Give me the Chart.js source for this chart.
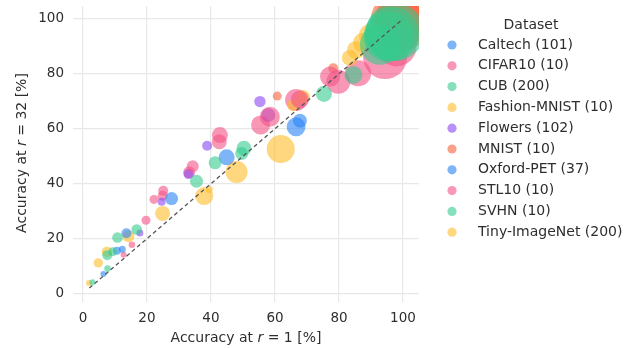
<!DOCTYPE html>
<html>
<head>
<meta charset="utf-8">
<script src="https://cdn.jsdelivr.net/npm/chart.js@4/dist/chart.umd.min.js"></script>
<style>
  html, body { margin: 0; padding: 0; background: #ffffff; }
  #wrap { width: 638px; height: 348px; position: relative; }
</style>
</head>
<body>
<div id="wrap"><canvas id="chart" width="638" height="348"></canvas></div>
<script>
// Accuracy of each model at r = 1 (x) and r = 32 (y), bubble size per model
const datasetNames = ['Caltech (101)', 'CIFAR10 (10)', 'CUB (200)', 'Fashion-MNIST (10)', 'Flowers (102)',
  'MNIST (10)', 'Oxford-PET (37)', 'STL10 (10)', 'SVHN (10)', 'Tiny-ImageNet (200)'];

const caltechR1   = [6.4, 12.3, 27.7, 66.6];
const caltechR32  = [7.1, 16.1, 34.6, 60.7];
const caltechSize = [3, 3.5, 6.5, 9.5];

const cifarR1   = [15.3, 22.2, 25.1, 34.3, 42.8, 58.4, 67.8, 79.8, 94.4];
const cifarR32  = [17.8, 34.3, 37.4, 46.4, 57.7, 64.4, 70.7, 77.1, 86.1];
const cifarSize = [3.3, 4.5, 5, 6, 8, 10, 9, 12, 22];

const cubR1   = [3.0, 7.7, 7.6, 9.3, 10.8, 16.8, 35.5, 41.3, 49.6, 50.3];
const cubR32  = [4.1, 9.1, 14.0, 15.2, 20.4, 23.3, 40.9, 47.6, 51.0, 52.9];
const cubSize = [3, 3.3, 5, 4.5, 5.3, 5.3, 6.5, 6.5, 6.5, 7.5];

const fashionR1   = [39.5, 65.7, 68.8, 83.4, 85.3, 87.5, 90.0];
const fashionR32  = [37.9, 68.6, 71.6, 85.8, 88.7, 91.3, 94.0];
const fashionSize = [3.5, 6, 7, 8, 9, 10, 12];

const flowersR1   = [17.8, 24.6, 33.0, 38.8, 55.3, 57.9];
const flowersR32  = [22.1, 33.4, 43.5, 53.8, 69.9, 65.0];
const flowersSize = [3.5, 4, 5, 5, 5.7, 7];

const mnistR1   = [60.7, 78.2, 98.8, 99.3, 99.6];
const mnistR32  = [71.9, 82.0, 98.9, 99.4, 99.7];
const mnistSize = [4.5, 5, 24, 30, 27];

const petR1   = [10.6, 13.6, 44.9, 67.8];
const petR32  = [15.6, 22.0, 49.6, 62.9];
const petSize = [4, 5, 8, 7];

const stlR1   = [12.7, 19.7, 24.9, 33.2, 42.6, 55.5, 66.6, 77.2, 86.0, 98.0];
const stlR32  = [14.1, 26.7, 35.6, 44.2, 55.3, 61.4, 70.5, 79.0, 80.2, 90.0];
const stlSize = [3, 4.5, 5, 6, 7.5, 9.5, 11, 10, 13, 20];

const svhnR1   = [75.3, 84.5, 92.8, 95.5, 96.5, 97.5];
const svhnR32  = [72.7, 79.6, 90.6, 93.5, 94.5, 95.2];
const svhnSize = [8, 9, 20, 25, 27, 29];

const tinyR1   = [1.9, 4.8, 7.5, 14.2, 24.9, 37.9, 48.0, 61.8];
const tinyR32  = [3.9, 11.2, 15.2, 20.9, 29.2, 35.5, 44.3, 52.6];
const tinySize = [3, 4.7, 5.3, 6, 7.5, 9, 11, 14];

const identityLine = [2, 100];
const tickValues = [0, 20, 40, 60, 80, 100];

const series = [
  [caltechR1, caltechR32, caltechSize],
  [cifarR1, cifarR32, cifarSize],
  [cubR1, cubR32, cubSize],
  [fashionR1, fashionR32, fashionSize],
  [flowersR1, flowersR32, flowersSize],
  [mnistR1, mnistR32, mnistSize],
  [petR1, petR32, petSize],
  [stlR1, stlR32, stlSize],
  [svhnR1, svhnR32, svhnSize],
  [tinyR1, tinyR32, tinySize]
];

const palette = [
  'rgba(40,132,245,0.6)',   // blue
  'rgba(244,84,134,0.6)',   // pink
  'rgba(52,204,142,0.6)',   // green
  'rgba(253,188,42,0.6)',   // yellow
  'rgba(136,70,244,0.6)',   // purple
  'rgba(250,98,58,0.6)'     // orange
];
// draw order: lower values end up on top
const layer = [2, 2, 2, 2, 2, 3, 2, 2, 1, 2];

const FONT = 'DejaVu Sans';
const TEXT = '#2e2e2e';

const datasets = series.map((s, i) => ({
  type: 'bubble',
  label: datasetNames[i],
  data: s[0].map((v, j) => ({ x: v, y: s[1][j], r: s[2][j] })),
  backgroundColor: palette[i % palette.length],
  borderWidth: 0,
  hoverBorderWidth: 0,
  clip: 0,
  order: layer[i]
}));

datasets.push({
  type: 'line',
  label: 'identity',
  data: identityLine.map(v => ({ x: v, y: v })),
  borderColor: '#555555',
  borderWidth: 1.3,
  borderDash: [4, 3],
  pointRadius: 0,
  fill: false,
  clip: 0,
  order: 0
});

function drawRich(ctx, parts, cx, cy) {
  // parts: [text, italic]
  let total = 0;
  const widths = parts.map(p => {
    ctx.font = (p[1] ? 'italic ' : '') + '14px "' + FONT + '"';
    const w = ctx.measureText(p[0]).width;
    total += w;
    return w;
  });
  let x = cx - total / 2;
  ctx.textBaseline = 'middle';
  ctx.textAlign = 'left';
  parts.forEach((p, i) => {
    ctx.font = (p[1] ? 'italic ' : '') + '14px "' + FONT + '"';
    ctx.fillText(p[0], x, cy);
    x += widths[i];
  });
}

const decorations = {
  id: 'decorations',
  afterDraw(chart) {
    const ctx = chart.ctx;
    ctx.save();
    ctx.fillStyle = TEXT;
    // axis titles
    drawRich(ctx, [['Accuracy at ', false], ['r', true], [' = 1 [%]', false]], 246, 338);
    ctx.save();
    ctx.translate(22, 153);
    ctx.rotate(-Math.PI / 2);
    drawRich(ctx, [['Accuracy at ', false], ['r', true], [' = 32 [%]', false]], 0, 0);
    ctx.restore();

    // legend
    ctx.font = '14px "' + FONT + '"';
    ctx.textAlign = 'center';
    ctx.textBaseline = 'middle';
    ctx.fillText('Dataset', 531, 25);
    ctx.textAlign = 'left';
    datasetNames.forEach((name, i) => {
      const y = 45 + i * 20.8;
      ctx.beginPath();
      ctx.arc(452, y, 4.6, 0, Math.PI * 2);
      ctx.fillStyle = palette[i % palette.length];
      ctx.fill();
      ctx.fillStyle = TEXT;
      ctx.fillText(name, 478, y);
    });
    ctx.restore();
  }
};

function noPadding(s) {
  s.paddingTop = 0; s.paddingBottom = 0; s.paddingLeft = 0; s.paddingRight = 0;
}

new Chart(document.getElementById('chart'), {
  type: 'bubble',
  data: { datasets },
  options: {
    responsive: false,
    animation: false,
    events: [],
    layout: { autoPadding: false, padding: { left: 0, top: 6, right: 219, bottom: 0 } },
    plugins: { legend: { display: false }, tooltip: { enabled: false } },
    scales: {
      x: {
        type: 'linear',
        min: -3.1, max: 105,
        afterBuildTicks: s => { s.ticks = tickValues.map(v => ({ value: v })); },
        afterFit: s => { s.height = 46; noPadding(s); },
        grid: { color: '#e8e8e8', lineWidth: 1.2, drawTicks: false },
        border: { display: false },
        ticks: { padding: 8, color: TEXT, font: { family: FONT, size: 13.5 }, maxRotation: 0 }
      },
      y: {
        type: 'linear',
        min: -3.06, max: 104.7,
        afterBuildTicks: s => { s.ticks = tickValues.map(v => ({ value: v })); },
        afterFit: s => { s.width = 73; noPadding(s); },
        grid: { color: '#e8e8e8', lineWidth: 1.2, drawTicks: false },
        border: { display: false },
        ticks: { padding: 9, color: TEXT, font: { family: FONT, size: 13.5 } }
      }
    }
  },
  plugins: [decorations]
});
</script>
</body>
</html>
